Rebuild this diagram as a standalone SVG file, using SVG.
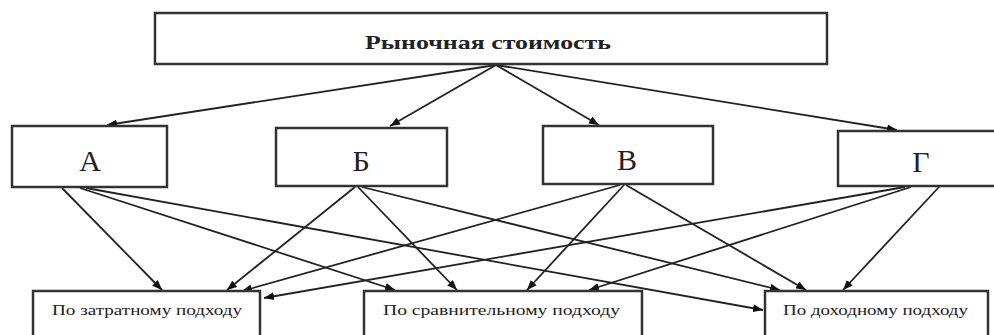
<svg xmlns="http://www.w3.org/2000/svg" width="994" height="335" viewBox="0 0 994 335">
<style>
.box{fill:#fff;stroke:#333;stroke-width:2.5}
.ln{stroke:#222;stroke-width:1.8;fill:none;marker-end:url(#ah)}
.t{font-family:"Liberation Serif","Times New Roman",serif;fill:#222}
.big{font-size:30px;text-anchor:middle}
.top{font-size:19px;font-weight:bold}
.sm{font-size:14px}
</style>
<defs>
<marker id="ah" markerUnits="userSpaceOnUse" markerWidth="10" markerHeight="8" refX="10" refY="4" orient="auto">
<path d="M0,0 L10,4 L0,8 z" fill="#111"/>
</marker>
</defs>
<rect width="994" height="335" fill="#fff"/>
<g id="connectors">
<line class="ln" x1="496" y1="65" x2="107" y2="125"/>
<line class="ln" x1="496" y1="65" x2="390" y2="126"/>
<line class="ln" x1="496" y1="65" x2="599" y2="125"/>
<line class="ln" x1="496" y1="65" x2="897" y2="130"/>
<line class="ln" x1="62" y1="188" x2="162" y2="290"/>
<line class="ln" x1="80" y1="188" x2="395" y2="290"/>
<line class="ln" x1="86" y1="188" x2="763" y2="310"/>
<line class="ln" x1="355" y1="187" x2="227" y2="290"/>
<line class="ln" x1="358" y1="187" x2="457" y2="290"/>
<line class="ln" x1="362" y1="187" x2="780" y2="290"/>
<line class="ln" x1="620" y1="185" x2="242" y2="291"/>
<line class="ln" x1="624" y1="185" x2="527" y2="290"/>
<line class="ln" x1="626" y1="185" x2="806" y2="290"/>
<line class="ln" x1="905" y1="187" x2="264" y2="298"/>
<line class="ln" x1="911" y1="187" x2="589" y2="290"/>
<line class="ln" x1="939" y1="187" x2="843" y2="290"/>
</g>
<g id="n-top">
<rect class="box" x="155" y="13" width="672" height="51"/>
<text class="t top" x="365" y="49" textLength="246" lengthAdjust="spacingAndGlyphs">Рыночная стоимость</text>
</g>
<g id="n-a">
<rect class="box" x="12" y="126" width="155" height="61"/>
<text class="t big" x="90" y="171">А</text>
</g>
<g id="n-b">
<rect class="box" x="276" y="128" width="171" height="58"/>
<text class="t big" x="361" y="171">Б</text>
</g>
<g id="n-v">
<rect class="box" x="543" y="126" width="170" height="58"/>
<text class="t big" x="627" y="170">В</text>
</g>
<g id="n-g">
<rect class="box" x="838" y="131" width="170" height="55"/>
<text class="t big" x="921" y="172">Г</text>
</g>
<g id="n-cost">
<rect class="box" x="33" y="291" width="227" height="60"/>
<text class="t sm" x="52" y="315" textLength="190" lengthAdjust="spacingAndGlyphs">По затратному подходу</text>
</g>
<g id="n-comp">
<rect class="box" x="364" y="291" width="278" height="60"/>
<text class="t sm" x="383" y="315" textLength="237" lengthAdjust="spacingAndGlyphs">По сравнительному подходу</text>
</g>
<g id="n-income">
<rect class="box" x="765" y="291" width="223" height="60"/>
<text class="t sm" x="783" y="315" textLength="185" lengthAdjust="spacingAndGlyphs">По доходному подходу</text>
</g>
</svg>
